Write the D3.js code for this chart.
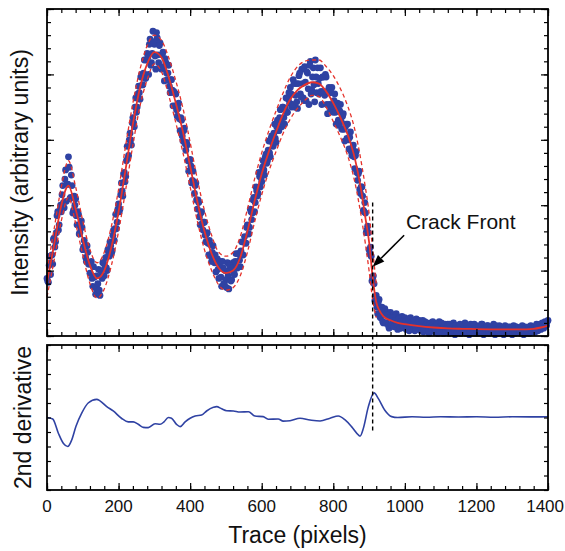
<!DOCTYPE html>
<html>
<head>
<meta charset="utf-8">
<script src="https://cdn.jsdelivr.net/npm/d3@7"></script>
<style>
body { margin: 0; background: #fff; }
svg { font-family: "Liberation Sans", Arial, Helvetica, sans-serif; }
</style>
</head>
<body>
<svg id="chart" width="565" height="551"></svg>
<script>
// measured intensity, every 4 trace pixels starting at 0
const traceStep = 4
const intensity = [
    44, 41, 61, 56, 55, 75, 72, 92, 81, 96,
    95, 115, 98, 127, 116, 137, 105, 123, 94, 107,
    105, 85, 93, 79, 88, 66, 73, 60, 69, 55,
    48, 57, 38, 45, 32, 36, 51, 31, 46, 56,
    46, 60, 50, 64, 72, 63, 77, 73, 93, 87,
    101, 97, 117, 107, 125, 122, 145, 138, 155, 146,
    167, 160, 182, 175, 191, 181, 200, 192, 211, 197,
    216, 200, 227, 209, 233, 223, 204, 228, 209, 224,
    204, 217, 195, 209, 196, 207, 186, 196, 176, 186,
    185, 168, 178, 157, 165, 149, 159, 142, 146, 126,
    135, 117, 126, 109, 117, 97, 102, 85, 95, 81,
    87, 72, 79, 62, 70, 57, 69, 56, 49, 59,
    44, 57, 38, 52, 39, 43, 56, 36, 51, 43,
    56, 47, 63, 52, 63, 53, 72, 62, 76, 71,
    85, 78, 97, 89, 104, 95, 114, 107, 125, 114,
    118, 134, 123, 139, 134, 149, 137, 153, 145, 162,
    148, 165, 157, 173, 160, 175, 162, 182, 171, 186,
    190, 175, 196, 175, 193, 174, 199, 185, 204, 182,
    206, 180, 201, 177, 210, 188, 205, 179, 198, 205,
    185, 205, 177, 198, 184, 198, 170, 190, 173, 190,
    171, 185, 162, 178, 161, 177, 158, 170, 149, 162,
    162, 143, 156, 138, 146, 128, 141, 119, 126, 109,
    114, 96, 102, 79, 84, 66, 68, 42, 46, 27,
    31, 17, 28, 14, 22, 10, 21, 10, 18, 6,
    18, 8, 16, 8, 17, 5, 14, 6, 15, 7,
    14, 5, 12, 4, 14, 5, 12, 4, 13, 6,
    12, 4, 10, 3, 11, 5, 9, 2, 10, 4,
    10, 3, 8, 2, 11, 4, 8, 2, 9, 5,
    9, 2, 7, 3, 10, 1, 8, 4, 6, 2,
    8, 3, 10, 2, 6, 1, 9, 4, 7, 2,
    8, 2, 6, 3, 9, 1, 7, 3, 8, 2,
    7, 3, 9, 1, 6, 2, 8, 3, 6, 1,
    8, 2, 6, 3, 7, 1, 8, 2, 7, 3,
    6, 2, 8, 1, 7, 3, 6, 2, 8, 3,
    7, 3, 9, 4, 8, 5, 10, 6, 11, 8,
    12
]
// the in-between samples (trace pixel 2, 6, 10, ...)
const intensityMid = [
    42, 54, 47, 62, 74, 68, 79, 95, 85, 100,
    108, 102, 120, 103, 116, 129, 106, 115, 96, 100,
    92, 95, 78, 83, 83, 68, 69, 57, 64, 55,
    55, 44, 53, 37, 46, 40, 35, 50, 44, 56,
    53, 52, 66, 61, 69, 65, 81, 82, 82, 97,
    95, 108, 111, 124, 118, 134, 136, 150, 150, 163,
    163, 175, 171, 185, 186, 198, 192, 201, 197, 211,
    213, 223, 207, 216, 225, 214, 232, 215, 222, 206,
    215, 205, 212, 201, 201, 191, 196, 188, 187, 176,
    173, 174, 166, 167, 153, 157, 147, 148, 134, 134,
    130, 119, 118, 115, 104, 104, 91, 94, 86, 87,
    77, 78, 71, 73, 61, 64, 57, 62, 56, 51,
    55, 45, 57, 40, 50, 37, 46, 54, 42, 52,
    48, 57, 53, 63, 58, 65, 62, 72, 71, 83,
    84, 83, 95, 94, 106, 102, 111, 109, 122, 121,
    129, 127, 137, 132, 142, 140, 151, 148, 155, 151,
    160, 158, 167, 164, 175, 167, 174, 171, 181, 178,
    185, 177, 193, 184, 179, 193, 201, 183, 193, 180,
    194, 202, 189, 207, 185, 198, 192, 211, 186, 193,
    197, 187, 198, 187, 200, 177, 187, 177, 186, 176,
    180, 171, 175, 165, 172, 164, 168, 158, 160, 151,
    150, 152, 141, 144, 137, 138, 125, 124, 112, 114,
    107, 95, 94, 81, 79, 63, 61, 44, 40, 26,
    22, 26, 15, 19, 11, 16, 10, 16, 8, 14,
    9, 14, 7, 12, 9, 13, 6, 11, 8, 12,
    11, 7, 13, 6, 10, 8, 12, 5, 9, 11,
    9, 6, 12, 5, 8, 10, 4, 9, 7, 11,
    7, 5, 9, 6, 4, 10, 6, 8, 3, 7,
    6, 9, 4, 7, 5, 8, 3, 6, 9, 5,
    5, 7, 4, 8, 6, 3, 7, 5, 9, 6,
    4, 7, 5, 9, 3, 6, 5, 8, 4, 6,
    5, 6, 4, 8, 5, 3, 7, 5, 4, 6,
    5, 4, 7, 3, 6, 5, 4, 7, 5, 6,
    4, 6, 5, 3, 6, 4, 7, 5, 4, 6,
    6, 5, 8, 6, 9, 7, 8, 10, 9, 11
]

// fitted curve (red solid)
const fitX = [0, 20, 40, 60, 80, 100, 120, 140, 160, 180, 200, 220, 240, 260, 280, 300, 320, 340, 360, 380,
    400, 420, 440, 460, 480, 500, 520, 540, 560, 580, 600, 620, 640, 660, 680, 700, 720, 740, 760, 780,
    800, 820, 840, 860, 880, 890, 900, 910, 920, 930, 940, 960, 980, 1000, 1040, 1080, 1120, 1160, 1200,
    1240, 1280, 1320, 1360, 1380, 1400]
const fitY = [41, 70, 100, 115, 97, 74, 54, 44, 50, 68, 95, 128, 162, 190, 208, 217, 213, 198, 178, 156,
    130, 103, 80, 63, 52, 48, 50, 60, 80, 103, 124, 141, 156, 170, 181, 188, 192, 194, 193, 187,
    178, 167, 154, 136, 108, 90, 72, 45, 26, 19, 15, 12, 10, 9, 7.5, 6.5, 5.8, 5.5, 5.3,
    5.1, 5, 5, 5.5, 6.5, 8]

// envelope (red dashed), up to the crack
const bandX = [0, 20, 40, 60, 80, 100, 120, 140, 160, 180, 200, 220, 240, 260, 280, 300, 320, 340, 360, 380,
    400, 420, 440, 460, 480, 500, 520, 540, 560, 580, 600, 620, 640, 660, 680, 700, 720, 740, 760, 780,
    800, 820, 840, 860, 880, 890, 900, 910, 920]
const upperY = [50, 82, 114, 134, 114, 88, 66, 56, 64, 84, 112, 146, 178, 204, 222, 230, 226, 213, 195, 174,
    148, 120, 96, 77, 64, 61, 64, 76, 97, 120, 140, 157, 172, 186, 198, 206, 210, 211, 211, 206,
    199, 189, 176, 158, 130, 113, 94, 66, 40]
const lowerY = [30, 58, 88, 106, 86, 62, 40, 29, 36, 54, 80, 112, 146, 176, 196, 208, 202, 184, 163, 140,
    114, 88, 66, 50, 39, 35, 37, 46, 64, 87, 108, 126, 141, 155, 166, 174, 180, 184, 183, 175,
    164, 152, 138, 118, 88, 70, 50, 28, 14]

// 2nd derivative (lower panel)
const derivX = [0, 16, 32, 46, 58, 69, 81, 97, 115, 139, 148, 167, 185, 208, 227, 241, 255, 269, 283, 302,
    316, 327, 339, 348, 362, 372, 386, 400, 414, 432, 446, 465, 474, 488, 502, 521, 539, 563, 581, 604,
    618, 646, 660, 679, 707, 735, 763, 791, 814, 833, 851, 870, 875, 884, 898, 914, 926, 944, 963, 980,
    1020, 1060, 1100, 1150, 1200, 1250, 1300, 1350, 1400]
const derivY = [0, -0.1, -1.1, -1.8, -2.0, -1.55, -0.6, 0.3, 1.0, 1.25, 1.15, 0.75, 0.45, -0.05, -0.3, -0.3, -0.47, -0.68, -0.7, -0.43,
    -0.47, -0.3, 0, -0.05, -0.47, -0.63, -0.3, -0.05, 0.1, 0.17, 0.45, 0.7, 0.75, 0.6, 0.47, 0.45, 0.38, 0.4, 0.1, 0.06,
    -0.12, -0.1, -0.25, -0.22, -0.05, -0.17, -0.24, -0.05, 0.1, -0.17, -0.63, -1.2, -1.28, -0.75, 0.75, 1.7, 1.3, 0.5, 0.06, 0,
    0.05, 0.02, 0.05, 0.03, 0.05, 0.02, 0.05, 0.04, 0.05]

const xTicks = [0, 200, 400, 600, 800, 1000, 1200, 1400]
const crackAt = 910
const crackLabel = 'Crack Front'

const blue = '#2f42a3'
const red = '#e5322b'

const svg = d3.select('#chart')
const left = 47, right = 548
const top1 = 9, bottom1 = 336
const top2 = 345, bottom2 = 490

const x = d3.scaleLinear().domain([0, 1400]).range([left, right])
const y1 = d3.scaleLinear().domain([0, 250]).range([bottom1, top1])
const y2 = d3.scaleLinear().domain([-5, 5]).range([bottom2, top2])

// inward ticks on every side of a panel
function frameTicks(yScale, top, bottom, yMinor, yMajor) {
    const xMinor = d3.range(0, 1401, 40)
    const g = svg.append('g')
    const sets = [
        [d3.axisBottom(x), `translate(0,${top})`, xMinor, 4],
        [d3.axisBottom(x), `translate(0,${top})`, xTicks, 7],
        [d3.axisTop(x), `translate(0,${bottom})`, xMinor, 4],
        [d3.axisTop(x), `translate(0,${bottom})`, xTicks, 7],
        [d3.axisRight(yScale), `translate(${left},0)`, yMinor, 4],
        [d3.axisRight(yScale), `translate(${left},0)`, yMajor, 7],
        [d3.axisLeft(yScale), `translate(${right},0)`, yMinor, 4],
        [d3.axisLeft(yScale), `translate(${right},0)`, yMajor, 7]
    ]
    sets.forEach(([axis, tr, vals, size]) => {
        const a = g.append('g').attr('transform', tr)
            .call(axis.tickValues(vals).tickSize(size).tickFormat(''))
        a.select('.domain').remove()
        a.selectAll('line').attr('stroke', '#000').attr('stroke-width', 1.2)
    })
    svg.append('rect')
        .attr('x', left).attr('y', top)
        .attr('width', right - left).attr('height', bottom - top)
        .attr('fill', 'none').attr('stroke', '#000').attr('stroke-width', 1.8)
}

// top panel: points, envelope, fit
const points = intensity.map((v, i) => [i * traceStep, v])
    .concat(intensityMid.map((v, i) => [i * traceStep + traceStep / 2, v]))
svg.append('g').selectAll('circle')
    .data(points)
    .enter()
    .append('circle')
    .attr('cx', d => x(d[0]))
    .attr('cy', d => y1(d[1]))
    .attr('r', 3.4)
    .attr('fill', blue)

const band = d3.line().x(d => x(d[0])).y(d => y1(d[1])).curve(d3.curveMonotoneX)
svg.append('path')
    .attr('d', band(bandX.map((v, i) => [v, upperY[i]])))
    .attr('fill', 'none').attr('stroke', red).attr('stroke-width', 1.3)
    .attr('stroke-dasharray', '4,3')
svg.append('path')
    .attr('d', band(bandX.map((v, i) => [v, lowerY[i]])))
    .attr('fill', 'none').attr('stroke', red).attr('stroke-width', 1.3)
    .attr('stroke-dasharray', '4,3')
svg.append('path')
    .attr('d', band(fitX.map((v, i) => [v, fitY[i]])))
    .attr('fill', 'none').attr('stroke', red).attr('stroke-width', 1.8)

frameTicks(y1, top1, bottom1, d3.range(0, 251, 10), d3.range(0, 251, 50))

// bottom panel
const derivLine = d3.line().x(d => x(d[0])).y(d => y2(d[1])).curve(d3.curveMonotoneX)
svg.append('path')
    .attr('d', derivLine(derivX.map((v, i) => [v, derivY[i]])))
    .attr('fill', 'none').attr('stroke', blue).attr('stroke-width', 1.6)

frameTicks(y2, top2, bottom2, d3.range(-5, 5.01, 1), [])

// crack front marker
svg.append('line')
    .attr('x1', x(crackAt)).attr('x2', x(crackAt))
    .attr('y1', y1(102)).attr('y2', y2(-1.1))
    .attr('stroke', '#000').attr('stroke-width', 1.4)
    .attr('stroke-dasharray', '4,3')

const tip = [x(crackAt), y1(53)]
const tail = [x(998), y1(77)]
const ang = Math.atan2(tail[1] - tip[1], tail[0] - tip[0])
const hl = 12, hw = 4.5
const base = [tip[0] + hl * Math.cos(ang), tip[1] + hl * Math.sin(ang)]
svg.append('line')
    .attr('x1', tail[0]).attr('y1', tail[1])
    .attr('x2', base[0]).attr('y2', base[1])
    .attr('stroke', '#000').attr('stroke-width', 1.6)
svg.append('path')
    .attr('d', `M${tip[0]},${tip[1]}L${base[0] - hw * Math.sin(ang)},${base[1] + hw * Math.cos(ang)}L${base[0] + hw * Math.sin(ang)},${base[1] - hw * Math.cos(ang)}Z`)
    .attr('fill', '#000')

svg.append('text')
    .attr('x', x(1003)).attr('y', y1(82))
    .attr('font-size', 21)
    .attr('fill', '#111')
    .text(crackLabel)

// tick labels and titles
svg.append('g').selectAll('text')
    .data(xTicks)
    .enter()
    .append('text')
    .attr('x', d => d === 1400 ? 564 : x(d))
    .attr('y', 512)
    .attr('text-anchor', d => d === 1400 ? 'end' : 'middle')
    .attr('font-size', 17)
    .attr('fill', '#111')
    .text(d => d)

svg.append('text')
    .attr('x', (left + right) / 2).attr('y', 543)
    .attr('text-anchor', 'middle')
    .attr('font-size', 23)
    .attr('fill', '#111')
    .text('Trace (pixels)')

svg.append('text')
    .attr('transform', `translate(28,${(top1 + bottom1) / 2}) rotate(-90)`)
    .attr('text-anchor', 'middle')
    .attr('font-size', 23)
    .attr('fill', '#111')
    .text('Intensity (arbitrary units)')

svg.append('text')
    .attr('transform', `translate(31,${(top2 + bottom2) / 2}) rotate(-90)`)
    .attr('text-anchor', 'middle')
    .attr('font-size', 23)
    .attr('fill', '#111')
    .text('2nd derivative')
</script>
</body>
</html>
